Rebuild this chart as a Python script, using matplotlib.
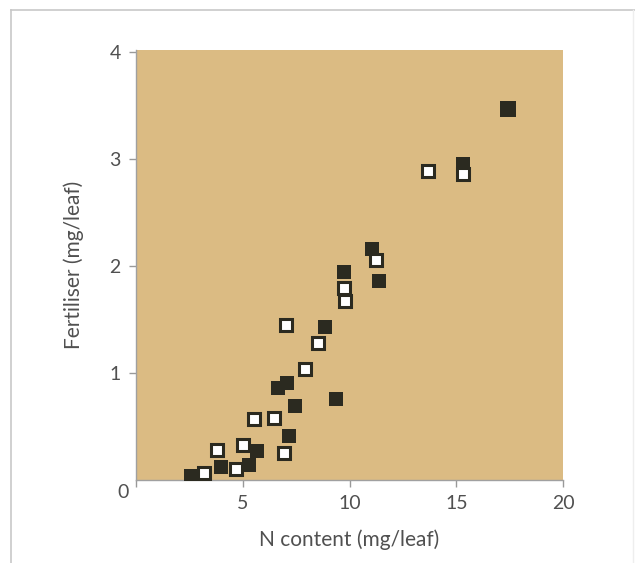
import matplotlib
matplotlib.use('Agg')
import matplotlib.pyplot as plt
from matplotlib.lines import Line2D

# filled squares
filled_n = [2.58, 3.98, 5.29, 5.67, 6.65, 7.07, 7.17, 7.45, 8.85, 9.37, 9.74, 11.05, 11.38, 15.32, 17.42]
filled_fert = [0.04, 0.12, 0.14, 0.27, 0.86, 0.91, 0.41, 0.69, 1.43, 0.76, 1.94, 2.16, 1.86, 2.95, 3.47]

# open squares
open_n = [3.19, 3.79, 4.68, 5.01, 5.53, 6.46, 6.93, 7.03, 7.92, 8.52, 9.74, 9.79, 11.24, 13.68, 15.32]
open_fert = [0.07, 0.28, 0.10, 0.33, 0.57, 0.58, 0.25, 1.45, 1.04, 1.28, 1.79, 1.67, 2.06, 2.89, 2.86]

x_ticks = [0, 5, 10, 15, 20]
x_tick_labels = ['', '5', '10', '15', '20']
y_ticks = [1, 2, 3, 4]
y_tick_labels = ['1', '2', '3', '4']

plt.rcParams['font.family'] = ['Lato', 'DejaVu Sans']
text_color = '#505050'
mark_color = '#2b2a20'

fig = plt.figure(figsize=(6.35, 5.63), dpi=100)
ax = fig.add_axes([0.214, 0.1474, 0.673, 0.764])
ax.set_facecolor('#dbbb83')

ax.plot(filled_n[:-1], filled_fert[:-1], 's', color=mark_color, markersize=9.5,
        markeredgewidth=0, zorder=3)
ax.plot(filled_n[-1:], filled_fert[-1:], 's', color=mark_color, markersize=11.5,
        markeredgewidth=0, zorder=3)
ax.plot(open_n, open_fert, 's', markerfacecolor='white', markeredgecolor=mark_color,
        markersize=9, markeredgewidth=2.2, zorder=4)

ax.set_xlim(0, 20)
ax.set_ylim(0, 4.02)
ax.set_xticks(x_ticks)
ax.set_xticklabels(x_tick_labels)
ax.set_yticks(y_ticks)
ax.set_yticklabels(y_tick_labels)
ax.tick_params(axis='both', colors='#999999', labelcolor=text_color, labelsize=14,
               length=5, width=1)
ax.tick_params(axis='x', pad=6)
ax.tick_params(axis='y', pad=6)

for side in ['top', 'right']:
    ax.spines[side].set_visible(False)
for side in ['left', 'bottom']:
    ax.spines[side].set_color('#a0a0a0')
    ax.spines[side].set_linewidth(1)

# shared origin label
ax.text(-0.6, -0.12, '0', ha='center', va='center', fontsize=14, color=text_color,
        transform=ax.transData, clip_on=False)

ax.set_xlabel('N content (mg/leaf)', fontsize=15, color=text_color, labelpad=12)
ax.set_ylabel('Fertiliser (mg/leaf)', fontsize=15, color=text_color, labelpad=18)

# page frame lines
fig.add_artist(Line2D([11 / 635, 1], [1 - 10 / 563, 1 - 10 / 563], color='#c8c8c8',
                      linewidth=1.2, transform=fig.transFigure))
fig.add_artist(Line2D([11 / 635, 11 / 635], [0, 1 - 10 / 563], color='#c8c8c8',
                      linewidth=1.2, transform=fig.transFigure))
fig.add_artist(Line2D([633 / 635, 633 / 635], [0, 1 - 10 / 563], color='#eeeeee',
                      linewidth=1, transform=fig.transFigure))

plt.savefig('out.png', dpi=100)
plt.close()
